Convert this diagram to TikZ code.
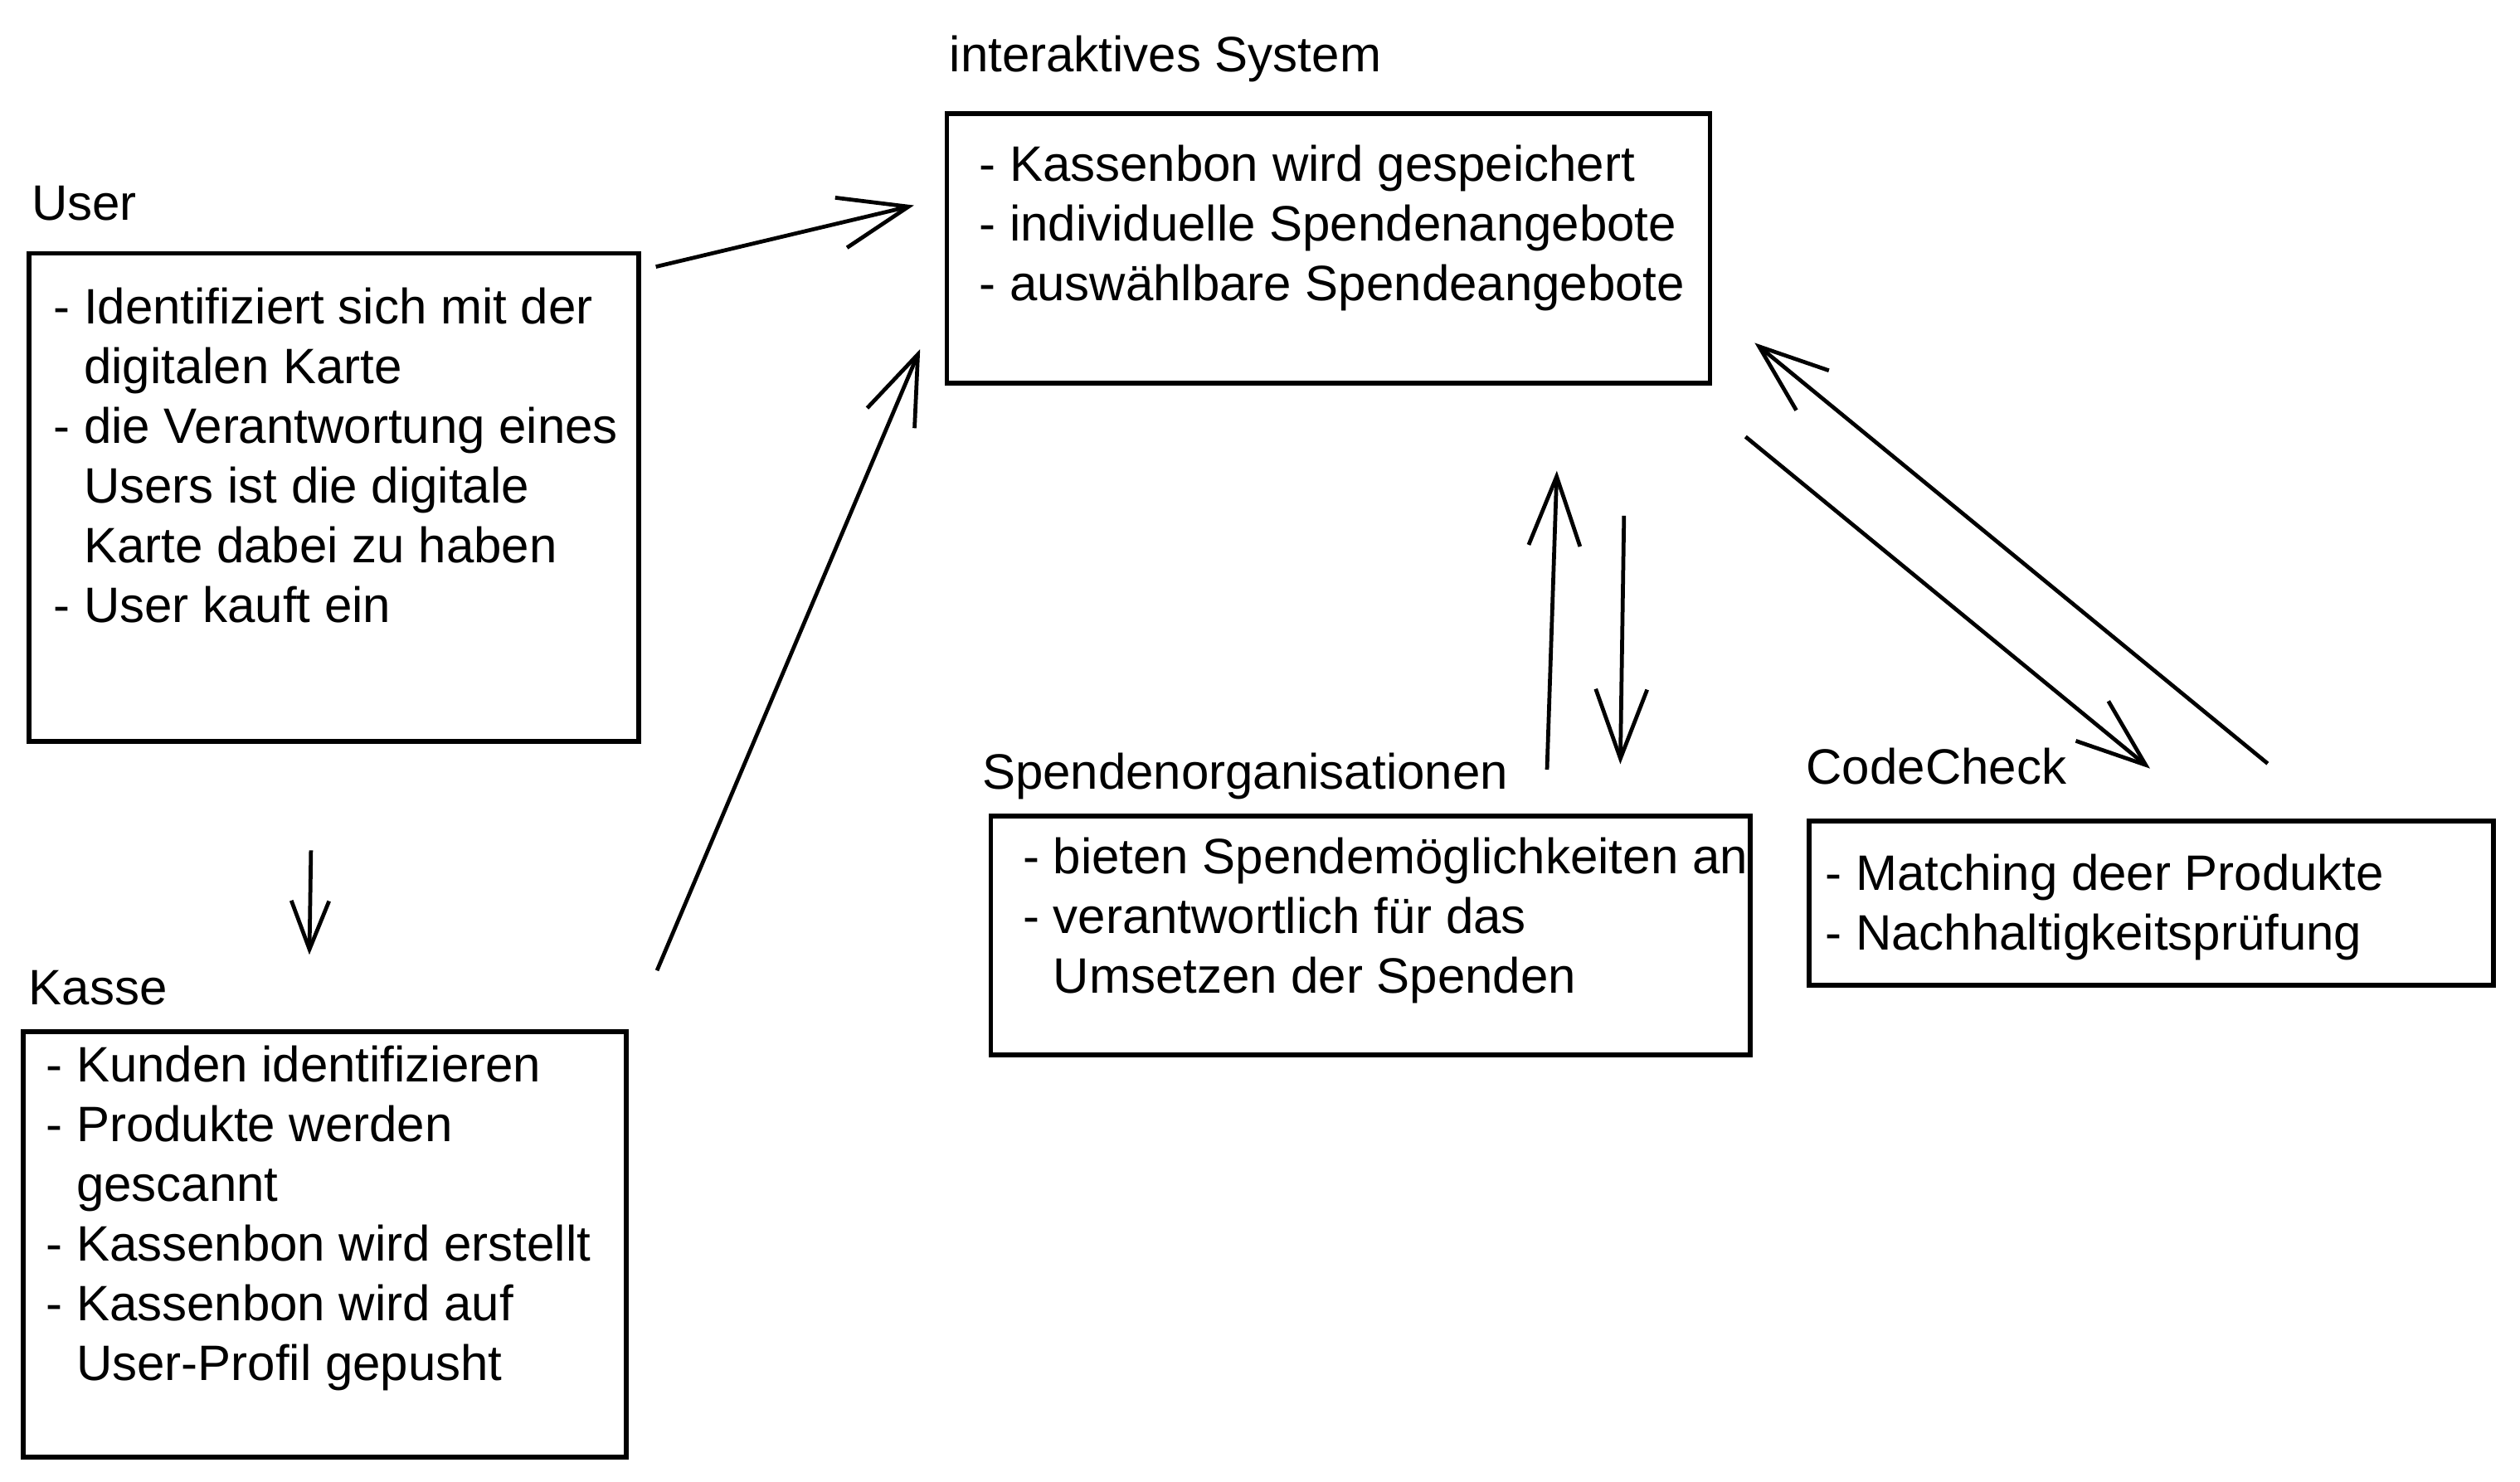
\documentclass[tikz,border=0pt]{standalone}
\usepackage{fontspec}
\setmainfont{Liberation Sans}
\usetikzlibrary{arrows.meta,fit}
\newcommand{\bulind}{\hphantom{-\ }}
\begin{document}
\begin{tikzpicture}[x=0.3875pt,y=-0.3875pt,
  box/.style={draw, line width=1.15pt, inner sep=0pt},
  txt/.style={anchor=base west, inner sep=0pt, font=\fontsize{12}{14.38}\selectfont},
  lbl/.style={anchor=base west, inner sep=0pt, font=\fontsize{12}{14.38}\selectfont},
  conn/.style={line width=0.95pt, -{Straight Barb[length=16.7pt,width=12.4pt]}},
  connsmall/.style={line width=0.95pt, -{Straight Barb[length=11.7pt,width=9.1pt]}}]
\useasboundingbox (0,0) rectangle (1568,922.3);

% labels
\node[lbl] (lsys)  at (590.4,44.4)  {interaktives System};
\node[lbl] (luser) at (19.2,136.8)  {User};
\node[lbl] (lkasse) at (17.4,625.3) {Kasse};
\node[lbl] (lspend) at (610.6,491.1) {Spendenorganisationen};
\node[lbl] (lcode) at (1123.4,487.8) {CodeCheck};

% boxes
\node[box, fit={(589.2,70.8) (1064,238.6)}] (sys) {};
\node[box, fit={(17.9,157.7) (397.5,461.4)}] (user) {};
\node[box, fit={(14.5,641.9) (389.7,907)}] (kasse) {};
\node[box, fit={(616.5,507.9) (1088.9,656.6)}] (spend) {};
\node[box, fit={(1125.5,510.8) (1551.3,613.3)}] (code) {};

% box texts
\node[txt] (tsys) at (608.8,113) {\begin{tabular}[t]{@{}l@{}}
- Kassenbon wird gespeichert\\
- individuelle Spendenangebote\\
- auswählbare Spendeangebote
\end{tabular}};
\node[txt] (tuser) at (32.8,201.8) {\begin{tabular}[t]{@{}l@{}}
- Identifiziert sich mit der\\
\bulind digitalen Karte\\
- die Verantwortung eines\\
\bulind Users ist die digitale\\
\bulind Karte dabei zu haben\\
- User kauft ein
\end{tabular}};
\node[txt] (tkasse) at (28.1,673.5) {\begin{tabular}[t]{@{}l@{}}
- Kunden identifizieren\\
- Produkte werden\\
\bulind gescannt\\
- Kassenbon wird erstellt\\
- Kassenbon wird auf\\
\bulind User-Profil gepusht
\end{tabular}};
\node[txt] (tspend) at (635.9,543.8) {\begin{tabular}[t]{@{}l@{}}
- bieten Spendemöglichkeiten an\\
- verantwortlich für das\\
\bulind Umsetzen der Spenden
\end{tabular}};
\node[txt] (tcode) at (1135.2,554) {\begin{tabular}[t]{@{}l@{}}
- Matching deer Produkte\\
- Nachhaltigkeitsprüfung
\end{tabular}};

% connector end points
\coordinate (a1s) at (408.1,166.0);  \coordinate (a1e) at (568.7,127.8);
\coordinate (a2s) at (408.8,604);    \coordinate (a2e) at (572.5,217.3);
\coordinate (a3s) at (193.5,529.2);  \coordinate (a3e) at (192.5,594.2);
\coordinate (a4s) at (962.6,479);    \coordinate (a4e) at (968.7,293);
\coordinate (a5s) at (1010.5,321);   \coordinate (a5e) at (1008.2,475.6);
\coordinate (a6s) at (1086.1,271.8); \coordinate (a6e) at (1337.8,478.3);
\coordinate (a7s) at (1411,475.2);   \coordinate (a7e) at (1091.8,213.4);

% connectors
\draw[conn] (a1s) -- (a1e);
\draw[conn] (a2s) -- (a2e);
\draw[connsmall] (a3s) -- (a3e);
\draw[conn] (a4s) -- (a4e);
\draw[conn] (a5s) -- (a5e);
\draw[conn] (a6s) -- (a6e);
\draw[conn] (a7s) -- (a7e);
\end{tikzpicture}
\end{document}
